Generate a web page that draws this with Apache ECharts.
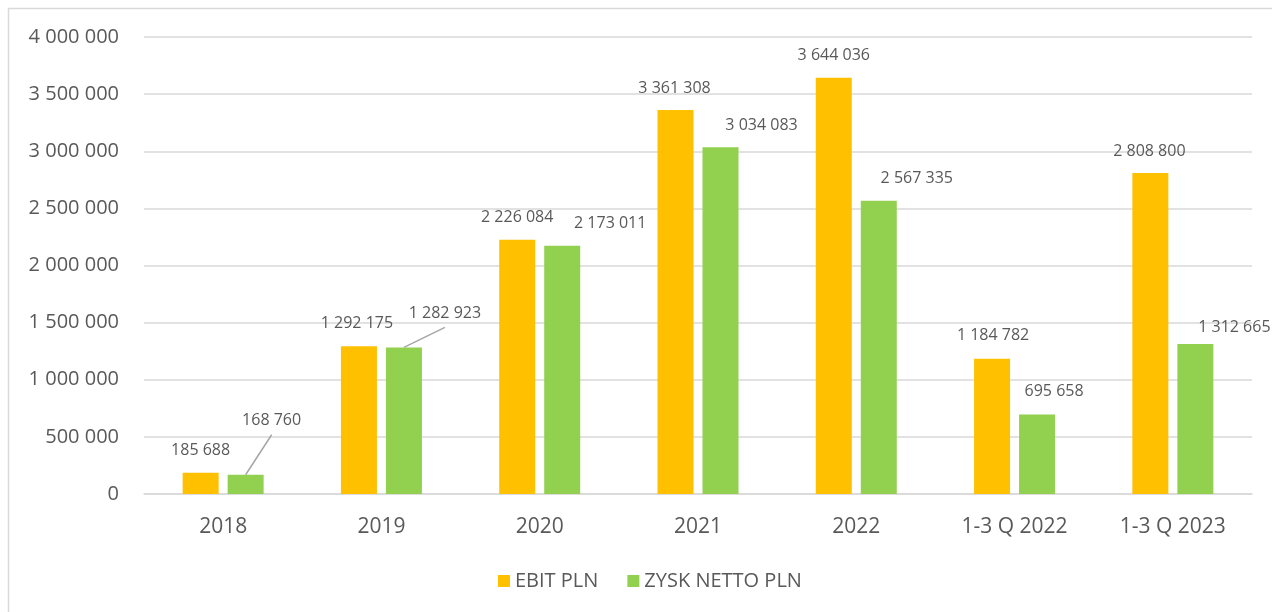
<!DOCTYPE html>
<html>
<head>
<meta charset="utf-8">
<script src="https://cdn.jsdelivr.net/npm/echarts@6/dist/echarts.min.js"></script>
<style>
html,body{margin:0;padding:0;background:#fff;}
#c{width:1272px;height:612px;}
</style>
</head>
<body>
<div id="c"></div>
<script>
var categories = ['2018', '2019', '2020', '2021', '2022', '1-3 Q 2022', '1-3 Q 2023'];
var ebit = [185688, 1292175, 2226084, 3361308, 3644036, 1184782, 2808800];
var zysk = [168760, 1282923, 2173011, 3034083, 2567335, 695658, 1312665];
var yTicks = [0, 500000, 1000000, 1500000, 2000000, 2500000, 3000000, 3500000, 4000000];

// label placement (style, not data)
var ebitLabelOffsets = [[0,0],[-2,-1],[0,0],[-1,0],[0,0],[1,-1],[-1,0]];
var zyskLabelOffsets = [[26,-32],[41,-12],[48,0],[41,0],[38,0],[17,-1],[39,5]];
var zyskLeader = [true, true, false, false, false, false, false];

function fmt(v){ return String(v).replace(/\B(?=(\d{3})+(?!\d))/g, ' '); }

var FONT = '"Open Sans", sans-serif';
var TXT = '#595959';

var borderGraphic = {
  type: 'rect', shape: { x: 8.5, y: 8.5, width: 1400, height: 800 },
  style: { fill: 'none', stroke: '#d9d9d9', lineWidth: 1.5 }, silent: true, z: -1
};
var leaderGeo = {};

var chart = echarts.init(document.getElementById('c'));
var option = {
  animation: false,
  graphic: [borderGraphic],
  legend: {
    left: 493, top: 566,
    itemWidth: 12, itemHeight: 12, itemGap: 29, icon: 'rect',
    textStyle: { fontFamily: FONT, fontSize: 20, color: TXT },
    data: ['EBIT PLN', 'ZYSK NETTO PLN']
  },
  grid: { left: 144, right: 20, top: 37, bottom: 118, containLabel: false },
  xAxis: {
    type: 'category', data: categories,
    axisLine: { show: true, lineStyle: { color: '#d9d9d9', width: 1.5 } },
    axisTick: { show: false },
    axisLabel: { fontFamily: FONT, fontSize: 21, color: TXT, margin: 23 }
  },
  yAxis: {
    type: 'value', min: yTicks[0], max: yTicks[yTicks.length-1], interval: yTicks[1]-yTicks[0],
    axisLine: { show: false }, axisTick: { show: false },
    splitLine: { lineStyle: { color: '#d9d9d9', width: 1.5 } },
    axisLabel: { fontFamily: FONT, fontSize: 20, color: TXT, margin: 25, formatter: function(v){ return fmt(v); } }
  },
  series: [{
    name: 'EBIT PLN', type: 'bar', barWidth: 36, barGap: '25%',
    itemStyle: { color: '#FFC000' },
    label: { show: true, position: 'top', distance: 14, fontFamily: FONT, fontSize: 16, color: TXT,
      formatter: function(p){ return fmt(p.value); } },
    labelLayout: function(p){
      var o = ebitLabelOffsets[p.dataIndex];
      return { dx: o[0], dy: o[1] };
    },
    data: ebit
  }, {
    name: 'ZYSK NETTO PLN', type: 'bar', barWidth: 36, barGap: '25%',
    itemStyle: { color: '#92D050' },
    label: { show: true, position: 'top', distance: 14, fontFamily: FONT, fontSize: 16, color: TXT,
      formatter: function(p){ return fmt(p.value); } },
    labelLayout: function(p){
      var o = zyskLabelOffsets[p.dataIndex];
      if (zyskLeader[p.dataIndex]) {
        leaderGeo[p.dataIndex] = {
          bx: p.rect.x + p.rect.width / 2, by: p.rect.y,
          lx: p.labelRect.x + p.labelRect.width / 2 + o[0],
          ly: p.labelRect.y + p.labelRect.height + o[1] + 6
        };
      }
      return { dx: o[0], dy: o[1] };
    },
    data: zysk
  }]
};
chart.setOption(option);

var lines = [borderGraphic];
Object.keys(leaderGeo).forEach(function(k){
  var g = leaderGeo[k];
  lines.push({
    type: 'line', silent: true, z: 10,
    shape: { x1: g.bx, y1: g.by, x2: g.lx, y2: g.ly },
    style: { stroke: '#a6a6a6', lineWidth: 1.5 }
  });
});
chart.setOption({ graphic: lines });
</script>
</body>
</html>
